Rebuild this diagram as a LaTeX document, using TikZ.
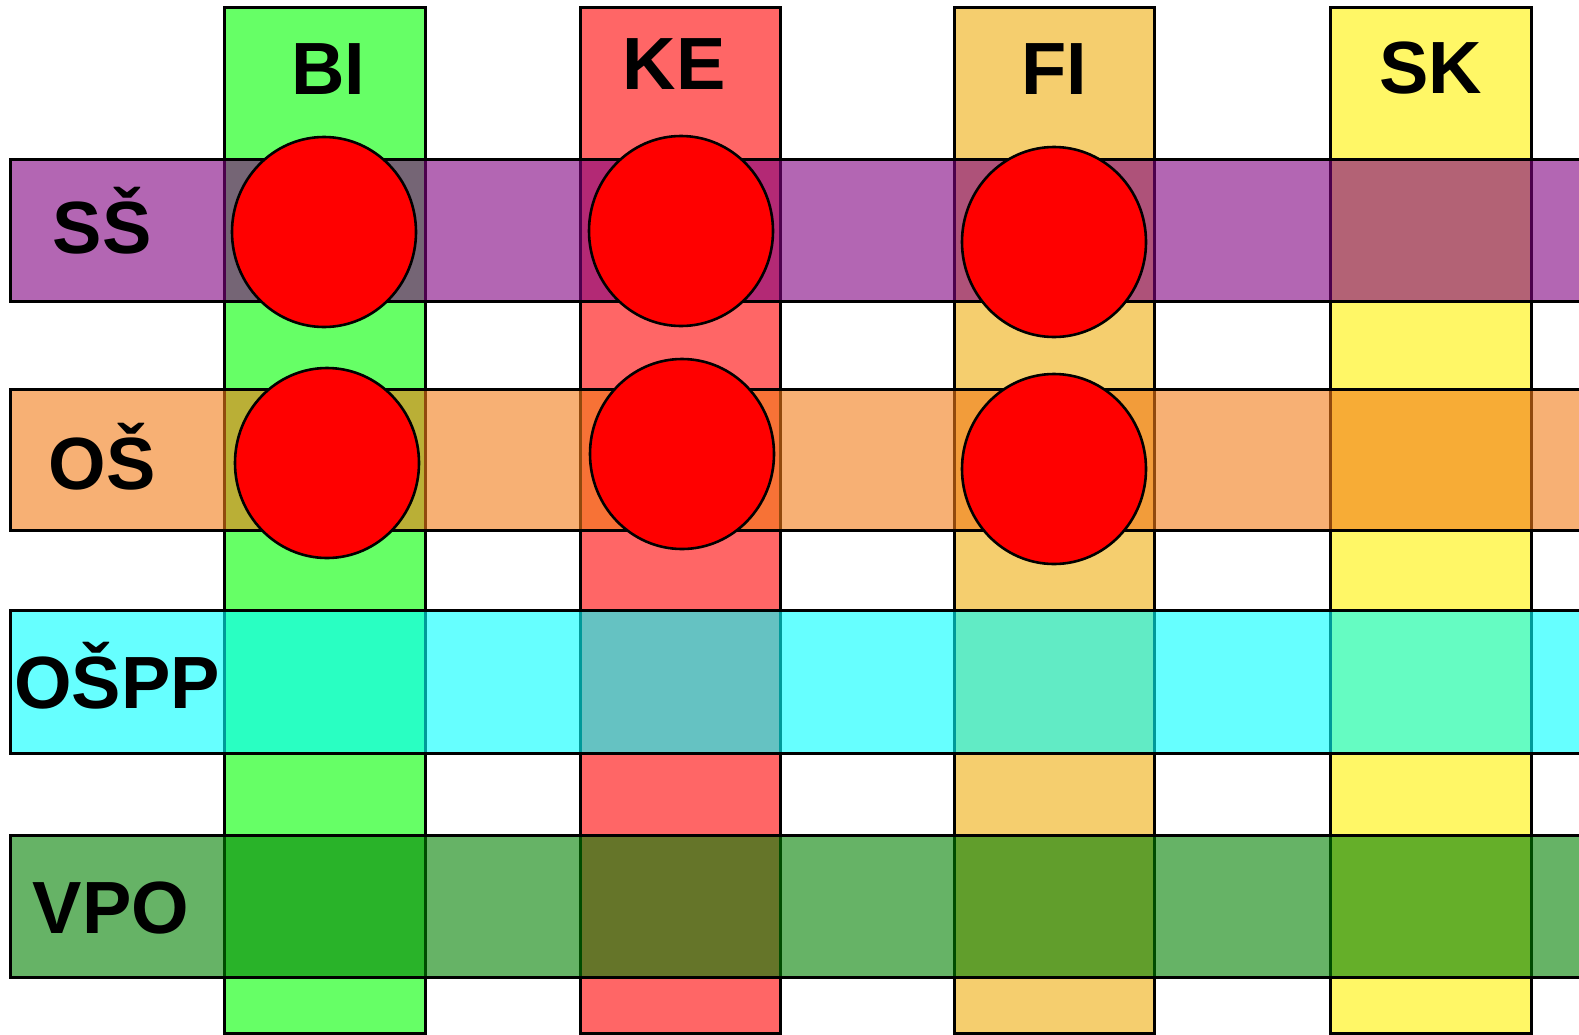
\documentclass[tikz,border=0pt]{standalone}
\usepackage{fontspec}
\setmainfont{Liberation Sans}
\definecolor{purplerow}{RGB}{128,0,128}
\definecolor{orangerow}{RGB}{242,123,23}
\definecolor{cyanrow}{RGB}{0,255,255}
\definecolor{greenrow}{RGB}{0,128,0}
\definecolor{ficol}{RGB}{238,173,14}
\tikzset{
  colbox/.style={draw=black, line width=3pt, fill opacity=0.6},
  rowbox/.style={draw=black, line width=3pt, fill opacity=0.6},
  dot/.style={draw=black, line width=2.6pt, fill=red},
  lbl/.style={anchor=base, inner sep=0pt, font=\fontsize{74}{80}\selectfont\bfseries}
}
\begin{document}
\begin{tikzpicture}[x=1pt, y=-1pt]
\useasboundingbox (0,0) rectangle (1579,1034);
\clip (0,0) rectangle (1579,1034);
% vertical columns
\path[colbox, fill=green]  (224,7) rectangle (425,1033);
\path[colbox, fill=red]    (580,7) rectangle (780,1033);
\path[colbox, fill=ficol]  (954,7) rectangle (1154,1033);
\path[colbox, fill=yellow] (1330,7) rectangle (1531,1033);
% horizontal rows, laid over the columns
\path[rowbox, fill=purplerow] (10,159) rectangle (1600,301);
\path[rowbox, fill=orangerow] (10,389) rectangle (1600,530);
\path[rowbox, fill=cyanrow]   (10,610) rectangle (1600,753);
\path[rowbox, fill=greenrow]  (10,835) rectangle (1600,977);
% markers
\draw[dot] (324,232) ellipse [x radius=92, y radius=95];
\draw[dot] (681,231) ellipse [x radius=92, y radius=95];
\draw[dot] (1054,242) ellipse [x radius=92, y radius=95];
\draw[dot] (327,463) ellipse [x radius=92, y radius=95];
\draw[dot] (682,454) ellipse [x radius=92, y radius=95];
\draw[dot] (1054,469) ellipse [x radius=92, y radius=95];
% column labels
\node[lbl] (bi) at (328,94) {BI};
\node[lbl] (ke) at (674,89) {KE};
\node[lbl] (fi) at (1054,94) {FI};
\node[lbl] (sk) at (1431,93) {SK};
% row labels
\node[lbl] (ss) at (102,253) {SŠ};
\node[lbl] (os) at (102,489) {OŠ};
\node[lbl] (ospp) at (117,708) {OŠPP};
\node[lbl] (vpo) at (111,933) {VPO};
\end{tikzpicture}
\end{document}
